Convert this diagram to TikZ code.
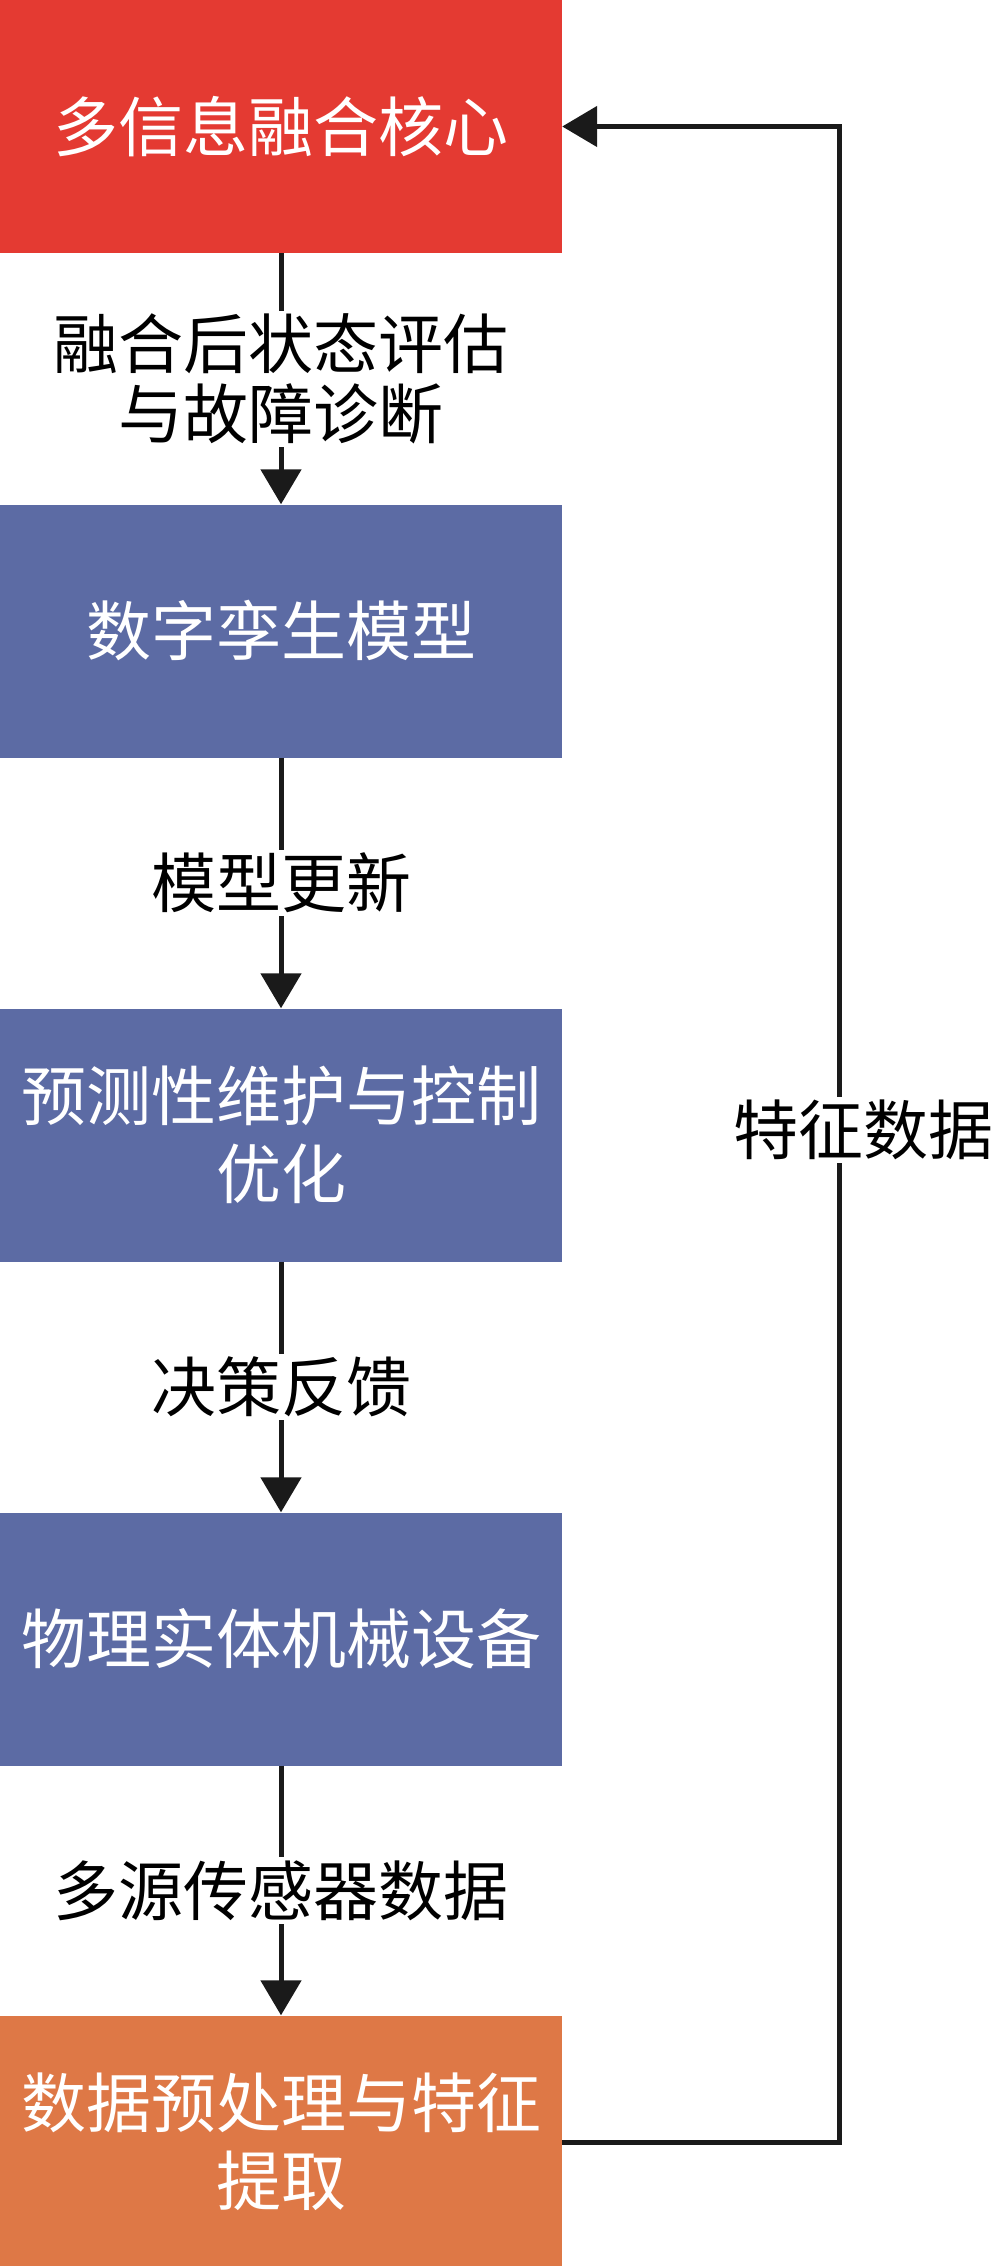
\documentclass[tikz,border=0pt]{standalone}
\usepackage{fontspec}
\setmainfont{Noto Sans CJK SC}
\usetikzlibrary{arrows.meta}
\definecolor{redc}{RGB}{228,58,50}
\definecolor{bluec}{RGB}{92,107,164}
\definecolor{orangec}{RGB}{222,120,70}
\definecolor{linec}{RGB}{26,26,26}
\begin{document}
\begin{tikzpicture}[x=1pt,y=-1pt,
  box/.style={rectangle, minimum width=562pt, minimum height=253pt, inner sep=0pt,
    text=white, font=\fontsize{65}{78}\selectfont, align=center},
  lbl/.style={fill=white, inner sep=3pt, font=\fontsize{65}{70}\selectfont, align=center, text=black},
  conn/.style={line width=5pt, draw=linec, -{Triangle[length=35pt,width=40pt]}}
]
\useasboundingbox (0,0) rectangle (999,2266);
\node[box, fill=redc] (core) at (281,126.5) {多信息融合核心};
\node[box, fill=bluec] (twin) at (281,631) {数字孪生模型};
\node[box, fill=bluec] (pred) at (281,1135) {预测性维护与控制\\优化};
\node[box, fill=bluec] (phys) at (281,1639) {物理实体机械设备};
\node[box, fill=orangec] (prep) at (281,2142) {数据预处理与特征\\提取};
\coordinate (rx) at (839,0);
\draw[conn] (core) -- node[lbl] {融合后状态评估\\与故障诊断} (twin);
\draw[conn] (twin) -- node[lbl] {模型更新} (pred);
\draw[conn] (pred) -- node[lbl] {决策反馈} (phys);
\draw[conn] (phys) -- node[lbl] {多源传感器数据} (prep);
\draw[conn] (prep.east) -- (prep.east -| rx) -- (core.east -| rx) -- (core.east);
\node[lbl] (feat) at (863,1130) {特征数据};
\end{tikzpicture}
\end{document}
